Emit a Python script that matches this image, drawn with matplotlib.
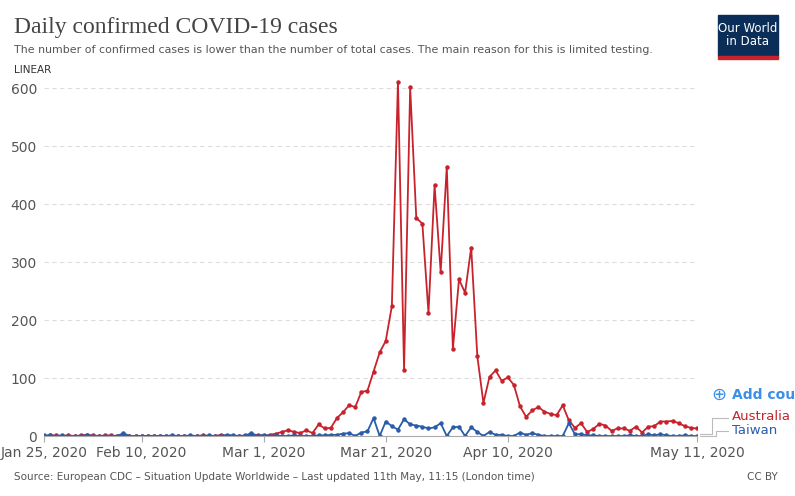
import numpy as np
import pandas as pd
import matplotlib
matplotlib.use("Agg")
import matplotlib.pyplot as plt
from matplotlib.patches import Rectangle

dates = pd.date_range("2020-01-25", "2020-05-11")

# Australia daily cases, Jan 25 .. May 11 (108 days)
australia = [
    0, 1, 1, 0, 1, 0, 1, 2, 1, 0, 1, 1, 0, 0, 0, 0, 0, 0, 0, 0, 0, 0,  # Jan25-Feb15
    0, 0, 0, 0, 1, 0, 0, 2, 0, 0, 0, 0, 1, 2,                          # Feb16-Feb29
    0, 2, 4, 7, 10, 7, 5, 10, 5, 20, 13, 14, 31, 41, 53, 50, 76, 78,   # Mar1-Mar18
    111, 144, 164, 224, 611, 114, 601, 376, 366, 212, 432, 283, 464,   # Mar19-Mar31
    150, 270, 247, 325, 138, 57, 102, 113, 95, 101, 88, 51, 33, 44, 50,  # Apr1-Apr15
    42, 38, 36, 53, 27, 14, 22, 7, 12, 21, 18, 9, 13, 13, 9,           # Apr16-Apr30
    16, 6, 16, 17, 25, 25, 26, 22, 17, 14, 13,                         # May1-May11
]
taiwan = [
    1, 1, 0, 1, 0, 0, 0, 1, 0, 0, 0, 0, 0, 5, 0, 0, 0, 0, 0, 0, 0, 1,
    0, 0, 1, 0, 0, 1, 0, 0, 2, 1, 0, 1, 5, 0,
    2, 0, 1, 0, 0, 1, 0, 0, 0, 1, 1, 2, 2, 4, 5, 0, 6, 8,
    31, 0, 25, 17, 11, 29, 20, 18, 16, 13, 15, 22, 0,
    15, 16, 0, 15, 7, 0, 7, 2, 2, 0, 0, 6, 2, 5, 2,
    0, 0, 0, 0, 22, 3, 3, 1, 1, 0, 0, 0, 0, 0, 1,
    0, 0, 3, 1, 3, 1, 0, 0, 1, 0, 0,
]
tick_days = [0, 16, 36, 56, 76, 107]
tick_labels = ["Jan 25, 2020", "Feb 10, 2020", "Mar 1, 2020", "Mar 21, 2020",
               "Apr 10, 2020", "May 11, 2020"]

RED = "#c8232c"
BLUE = "#2a5caa"
W, H = 795, 496

fig = plt.figure(figsize=(W / 100, H / 100), dpi=100)
x0, x1, y0 = 44, 697, 436
ax = fig.add_axes([x0 / W, 1 - y0 / H, (x1 - x0) / W, (y0 - 70) / H])
days = np.arange(len(dates))
ax.plot(days, australia, color=RED, lw=1.3, marker="o", ms=2.2)
ax.plot(days, taiwan, color=BLUE, lw=1.3, marker="o", ms=2.2)
ax.set_xlim(0, 107)
ax.set_ylim(0, (y0 - 70) / 0.58)
ax.set_yticks(range(0, 601, 100))
ax.set_xticks(tick_days)
ax.set_xticklabels(tick_labels, fontsize=10, color="#555")
ax.tick_params(axis="y", length=0, labelsize=10, labelcolor="#555", pad=5)
ax.tick_params(axis="x", length=4, color="#aaa")
ax.grid(axis="y", ls=(0, (4, 3)), color="#ddd", lw=0.8)
for s in ["top", "right", "left"]:
    ax.spines[s].set_visible(False)
ax.spines["bottom"].set_color("#aaa")

fig.text(14 / W, 1 - 27 / H, "Daily confirmed COVID-19 cases", fontsize=17,
         family="Liberation Serif", color="#444", va="center")
fig.text(14 / W, 1 - 50 / H, "The number of confirmed cases is lower than the number of total cases. "
         "The main reason for this is limited testing.", fontsize=7.9, color="#555", va="center")
fig.text(14 / W, 1 - 70 / H, "LINEAR", fontsize=7.5, color="#333", va="center")

fig.patches.append(Rectangle((718 / W, 1 - 56 / H), 60 / W, 41 / H,
                             transform=fig.transFigure, color="#0b2e59"))
fig.patches.append(Rectangle((718 / W, 1 - 59 / H), 60 / W, 3 / H,
                             transform=fig.transFigure, color="#c8232c"))
fig.text(748 / W, 1 - 35 / H, "Our World\nin Data", ha="center", va="center",
         fontsize=8.5, color="white", linespacing=1.0)

fig.text(711 / W, 1 - 395 / H, "\u2295", fontsize=13, color="#3d8ee6", va="center")
fig.text(732 / W, 1 - 395 / H, "Add countr", fontsize=10, color="#3d8ee6",
         va="center", fontweight="bold")
fig.text(732 / W, 1 - 416 / H, "Australia", fontsize=9.5, color=RED, va="center")
fig.text(732 / W, 1 - 430 / H, "Taiwan", fontsize=9.5, color=BLUE, va="center")
fig.lines.append(plt.Line2D([700 / W, 712 / W, 712 / W, 728 / W],
                            [1 - 434 / H, 1 - 434 / H, 1 - 418 / H, 1 - 418 / H],
                            transform=fig.transFigure, color="#bbb", lw=0.8))
fig.lines.append(plt.Line2D([700 / W, 716 / W, 716 / W, 728 / W],
                            [1 - 436 / H, 1 - 436 / H, 1 - 431 / H, 1 - 431 / H],
                            transform=fig.transFigure, color="#bbb", lw=0.8))

fig.text(14 / W, 1 - 477 / H, "Source: European CDC \u2013 Situation Update Worldwide \u2013 "
         "Last updated 11th May, 11:15 (London time)", fontsize=7.5, color="#555", va="center")
fig.text(778 / W, 1 - 477 / H, "CC BY", fontsize=7.5, color="#555", va="center", ha="right")

fig.savefig("out.png", dpi=100, facecolor="white")
